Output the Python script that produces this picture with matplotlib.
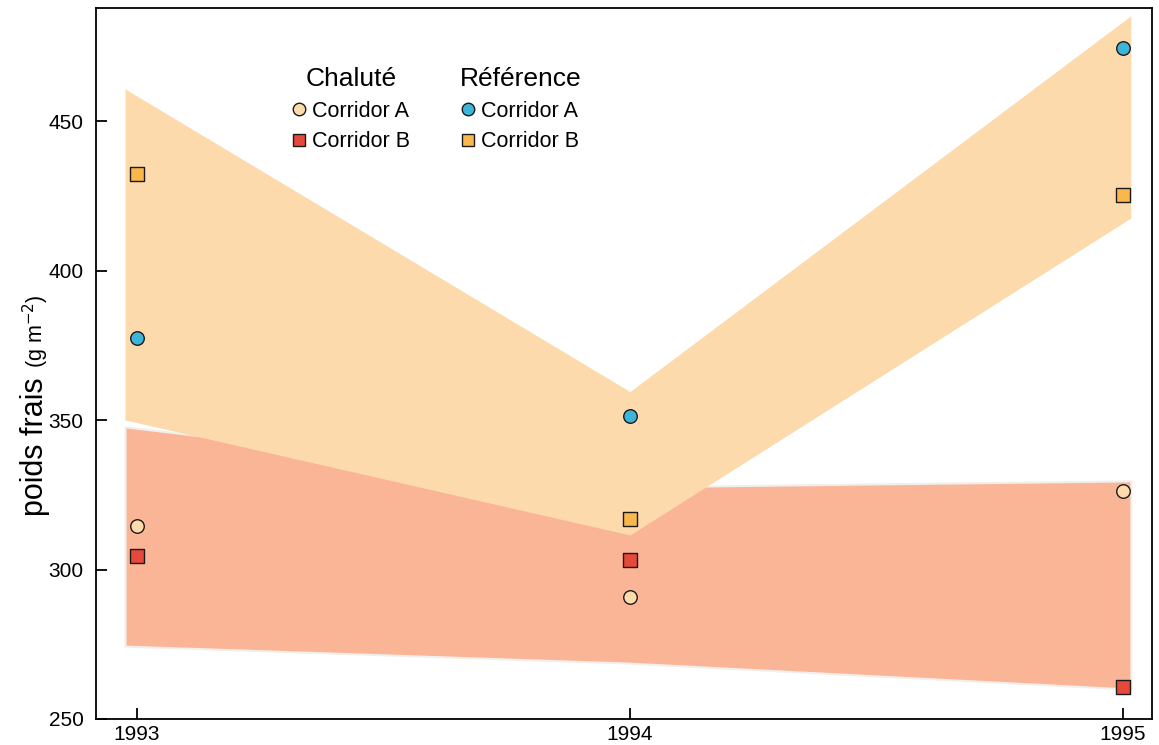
import numpy as np
import matplotlib.pyplot as plt
from matplotlib.lines import Line2D

plt.rcParams['font.family'] = ['Liberation Sans', 'DejaVu Sans']

years = [1993, 1994, 1995]

# points (g m-2)
chalute_a = [314.6, 290.8, 326.3]
chalute_b = [304.6, 303.2, 260.7]
reference_a = [377.6, 351.4, 474.6]
reference_b = [432.5, 317.0, 425.4]

# shaded bands
band_x = [1992.976, 1994, 1995.016]
chalute_low = [274.4, 268.7, 260.0]
chalute_high = [347.8, 327.7, 329.7]
reference_low = [350.1, 311.6, 417.7]
reference_high = [460.9, 359.6, 485.4]

c_light = '#FDDBAA'
c_red = '#E5493A'
c_blue = '#3CB5D8'
c_orange = '#F9B74C'


def main():
    fig = plt.figure(figsize=(11.59, 7.45), dpi=100)
    ax = fig.add_axes([0.0828, 0.0349, 0.9112, 0.9544])

    ax.fill_between(band_x, chalute_low, chalute_high, color='#F9B596',
                    edgecolor='#F2EEEC', linewidth=1.5, zorder=1)
    ax.fill_between(band_x, reference_low, reference_high, color='#FDDAAB',
                    linewidth=0, zorder=2)

    mk = dict(edgecolor='#1a1a1a', linewidths=1.0, s=95, zorder=5)
    ax.scatter(years, chalute_a, marker='o', color=c_light, **mk)
    ax.scatter(years, chalute_b, marker='s', color=c_red, **mk)
    ax.scatter(years, reference_a, marker='o', color=c_blue, **mk)
    ax.scatter(years, reference_b, marker='s', color=c_orange, **mk)

    ax.set_xlim(1992.917, 1995.059)
    ax.set_ylim(250, 488)
    ax.set_xticks(years)
    ax.set_xticklabels([str(y) for y in years])
    ax.set_yticks([250, 300, 350, 400, 450])
    ax.tick_params(direction='in', length=8, width=1.3, labelsize=15,
                   top=False, right=False)
    ax.tick_params(axis='y', pad=9)
    ax.tick_params(axis='x', pad=4)
    for s in ax.spines.values():
        s.set_linewidth(1.3)

    fig.text(0.030, 0.40, 'poids frais', rotation=90, fontsize=22,
             ha='center', va='center')
    fig.text(0.031, 0.555, '(g m$^{-2}$)', rotation=90, fontsize=15.5,
             ha='center', va='center')

    def handles(cols, marks, labels):
        return [Line2D([], [], marker=m, color='none', markerfacecolor=c,
                       markeredgecolor='#1a1a1a', markeredgewidth=1.0,
                       markersize=9, label=l)
                for c, m, l in zip(cols, marks, labels)]

    lab = ['Corridor A', 'Corridor B']
    opts = dict(loc='upper left', frameon=False, fontsize=15.5,
                title_fontsize=19, handlelength=0.6, handletextpad=0.3,
                labelspacing=0.45, borderpad=0)
    leg1 = ax.legend(handles=handles([c_light, c_red], ['o', 's'], lab),
                     title='Chaluté', bbox_to_anchor=(0.176, 0.932), **opts)
    ax.add_artist(leg1)
    ax.legend(handles=handles([c_blue, c_orange], ['o', 's'], lab),
              title='Référence', bbox_to_anchor=(0.334, 0.932), **opts)

    fig.savefig('out.png', dpi=100)


if __name__ == '__main__':
    main()
